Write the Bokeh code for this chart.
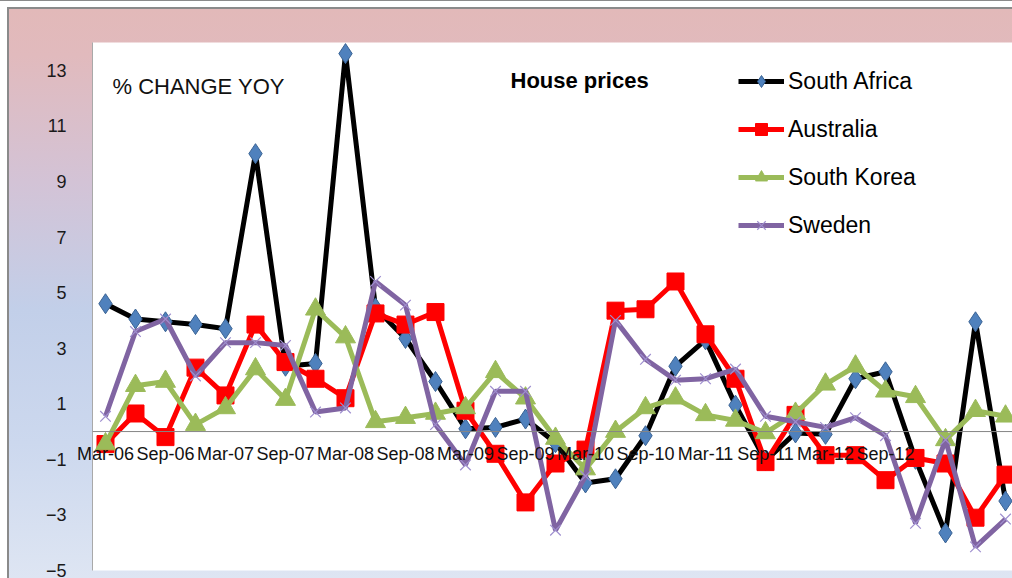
from bokeh.plotting import figure
from bokeh.models import (Range1d, FixedTicker, Legend, LegendItem, Label, ColumnDataSource, Span)
from bokeh.embed import file_html
from bokeh.resources import INLINE

# ---- data -------------------------------------------------------------
quarters = ["Mar-06", "Jun-06", "Sep-06", "Dec-06", "Mar-07", "Jun-07", "Sep-07", "Dec-07",
            "Mar-08", "Jun-08", "Sep-08", "Dec-08", "Mar-09", "Jun-09", "Sep-09", "Dec-09",
            "Mar-10", "Jun-10", "Sep-10", "Dec-10", "Mar-11", "Jun-11", "Sep-11", "Dec-11",
            "Mar-12", "Jun-12", "Sep-12", "Dec-12", "Mar-13", "Jun-13", "Sep-13"]
x_labels = ["Mar-06", "Sep-06", "Mar-07", "Sep-07", "Mar-08", "Sep-08", "Mar-09",
            "Sep-09", "Mar-10", "Sep-10", "Mar-11", "Sep-11", "Mar-12", "Sep-12"]
y_ticks = [-5, -3, -1, 1, 3, 5, 7, 9, 11, 13]

south_africa = [4.6, 4.05, 3.95, 3.85, 3.7, 10.0, 2.35, 2.45, 13.6, 4.45, 3.35, 1.8, 0.1, 0.15,
                0.45, -0.4, -1.85, -1.7, -0.15, 2.35, 3.3, 0.95, -1.05, -0.05, -0.1, 1.9, 2.15,
                -1.0, -3.65, 3.95, -2.5]
australia = [-0.45, 0.65, -0.2, 2.3, 1.3, 3.85, 2.5, 1.9, 1.2, 4.25, 3.85, 4.3, 0.75, -0.8,
             -2.55, -1.15, -0.65, 4.35, 4.4, 5.4, 3.5, 1.9, -1.1, 0.6, -0.85, -0.85, -1.75,
             -0.95, -1.15, -3.1, -1.55]
south_korea = [-0.45, 1.65, 1.8, 0.25, 0.85, 2.25, 1.15, 4.4, 3.4, 0.35, 0.5, 0.65, 0.85, 2.15,
               1.2, -0.25, -1.35, 0.0, 0.85, 1.2, 0.6, 0.4, -0.05, 0.65, 1.7, 2.35, 1.45,
               1.25, -0.3, 0.75, 0.55]
sweden = [0.55, 3.6, 4.05, 2.0, 3.2, 3.2, 3.1, 0.7, 0.85, 5.4, 4.55, 0.25, -1.2, 1.45,
          1.45, -3.55, -1.6, 4.0, 2.6, 1.85, 1.9, 2.25, 0.55, 0.35, 0.15, 0.5, -0.15,
          -3.3, -0.3, -4.15, -3.15]

series_names = ["South Africa", "Australia", "South Korea", "Sweden"]

# ---- figure -----------------------------------------------------------
x = list(range(len(quarters)))
FONT = "'Liberation Sans', Arial, sans-serif"
GRAY = "linear-gradient(#8a8a8a, #8a8a8a)"

p = figure(width=1012, height=578, output_backend="svg", toolbar_location=None,
           x_range=Range1d(-0.433, 30.233), y_range=Range1d(-5, 14),
           min_border_left=92, min_border_right=0, min_border_top=42, min_border_bottom=8)
p.background_fill_color = "white"
p.border_fill_alpha = 0
p.outline_line_color = None
p.grid.visible = False
p.styles = {
    "background": (
        f"{GRAY} 0px 0px / 100% 1px no-repeat, "
        f"{GRAY} 8px 7px / 100% 2px no-repeat, "
        f"{GRAY} 7px 7px / 2px 100% no-repeat, "
        "linear-gradient(180deg, #e2b9b9 0%, #e1babd 8%, #d3c3d6 30%, "
        "#c2cfe9 52%, #ccd8ee 75%, #dfe6f3 100%) 9px 9px / 100% 100% no-repeat, "
        "#ffffff"
    ),
}

# y axis
yax = p.yaxis[0]
yax.ticker = FixedTicker(ticks=y_ticks)
yax.axis_line_color = "#a9a9a9"
yax.major_tick_line_color = None
yax.minor_tick_line_color = None
yax.major_label_standoff = 20
yax.major_label_text_font = FONT
yax.major_label_text_font_size = "18px"
yax.major_label_text_color = "#1a1a1a"

# zero line (category axis crosses here)
p.add_layout(Span(location=0, dimension="width", line_color="#868686", line_width=1))

# x axis: labels lifted up to sit under the zero line
xax = p.xaxis[0]
tick_pos = [quarters.index(q) for q in x_labels]
xax.ticker = FixedTicker(ticks=tick_pos)
xax.major_label_overrides = {i: q for i, q in zip(tick_pos, x_labels)}
xax.axis_line_color = None
xax.major_tick_line_color = None
xax.minor_tick_line_color = None
xax.major_tick_out = 0
xax.major_tick_in = 0
xax.major_label_standoff = -127
xax.major_label_text_font = FONT
xax.major_label_text_font_size = "18px"
xax.major_label_text_color = "#111111"

src = ColumnDataSource(dict(x=x, sa=south_africa, au=australia, sk=south_korea, se=sweden))

l1 = p.line("x", "sa", source=src, line_color="black", line_width=5)
m1 = p.scatter("x", "sa", source=src, marker="diamond", size=20, fill_color="#4f81bd",
               line_color="#3a6394", line_width=1)
l2 = p.line("x", "au", source=src, line_color="#ff0000", line_width=5)
m2 = p.scatter("x", "au", source=src, marker="square", size=17, fill_color="#ff0000",
               line_color="#ff0000")
l3 = p.line("x", "sk", source=src, line_color="#9bbb59", line_width=5)
m3 = p.scatter("x", "sk", source=src, marker="triangle", size=20, fill_color="#9bbb59",
               line_color="#9bbb59")
l4 = p.line("x", "se", source=src, line_color="#8064a2", line_width=5)
m4 = p.scatter("x", "se", source=src, marker="x", size=15, line_color="#9f8fcf",
               line_width=1.2)

legend = Legend(items=[LegendItem(label=series_names[0], renderers=[l1, m1]),
                       LegendItem(label=series_names[1], renderers=[l2, m2]),
                       LegendItem(label=series_names[2], renderers=[l3, m3]),
                       LegendItem(label=series_names[3], renderers=[l4, m4])],
                location=(646, 330), orientation="vertical")
legend.background_fill_alpha = 0
legend.border_line_color = None
legend.padding = 0
legend.margin = 0
legend.spacing = 18
legend.glyph_width = 46
legend.glyph_height = 30
legend.label_height = 30
legend.label_standoff = 4
legend.label_text_font = FONT
legend.label_text_font_size = "23px"
legend.label_text_color = "black"
legend.label_text_baseline = "middle"
p.add_layout(legend)

p.add_layout(Label(x=0.233, y=12.4, text="% CHANGE YOY", text_font=FONT,
                   text_font_size="22px", text_baseline="middle", text_color="#111111"))
p.add_layout(Label(x=13.5, y=12.65, text="House prices", text_font=FONT,
                   text_font_size="22px", text_font_style="bold", text_baseline="middle",
                   text_color="black"))

open("out.html", "w").write(file_html(p, INLINE))
